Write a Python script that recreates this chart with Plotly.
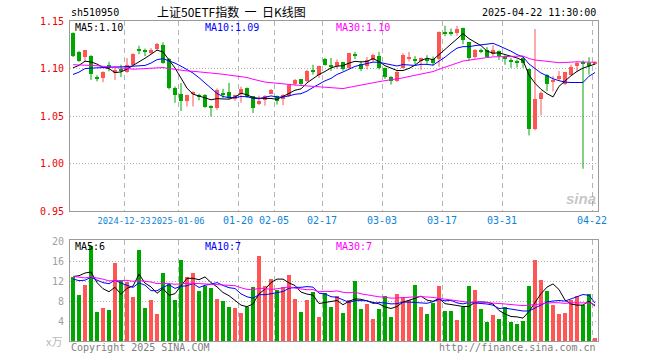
import plotly.graph_objects as go
import pandas as pd

# ---------------- data ----------------
dates = [
    "2024-12-10", "2024-12-11", "2024-12-12", "2024-12-13", "2024-12-16", "2024-12-17", "2024-12-18",
    "2024-12-19", "2024-12-20", "2024-12-23", "2024-12-24", "2024-12-25", "2024-12-26", "2024-12-27",
    "2024-12-30", "2024-12-31", "2025-01-02", "2025-01-03", "2025-01-06", "2025-01-07", "2025-01-08",
    "2025-01-09", "2025-01-10", "2025-01-13", "2025-01-14", "2025-01-15", "2025-01-16", "2025-01-17",
    "2025-01-20", "2025-01-21", "2025-01-22", "2025-01-23", "2025-01-24", "2025-01-27", "2025-02-05",
    "2025-02-06", "2025-02-07", "2025-02-10", "2025-02-11", "2025-02-12", "2025-02-13", "2025-02-14",
    "2025-02-17", "2025-02-18", "2025-02-19", "2025-02-20", "2025-02-21", "2025-02-24", "2025-02-25",
    "2025-02-26", "2025-02-27", "2025-02-28", "2025-03-03", "2025-03-04", "2025-03-05", "2025-03-06",
    "2025-03-07", "2025-03-10", "2025-03-11", "2025-03-12", "2025-03-13", "2025-03-14", "2025-03-17",
    "2025-03-18", "2025-03-19", "2025-03-20", "2025-03-21", "2025-03-24", "2025-03-25", "2025-03-26",
    "2025-03-27", "2025-03-28", "2025-03-31", "2025-04-01", "2025-04-02", "2025-04-03", "2025-04-07",
    "2025-04-08", "2025-04-09", "2025-04-10", "2025-04-11", "2025-04-14", "2025-04-15", "2025-04-16",
    "2025-04-17", "2025-04-18", "2025-04-21", "2025-04-22",
]

opens = [
    1.1375, 1.1175, 1.1120, 1.1130, 1.0900, 1.0895, 1.1040, 1.0960, 1.1000, 1.0966,
    1.1042, 1.1197, 1.1185, 1.1170, 1.1205, 1.1245, 1.1100, 1.0797, 1.0732, 1.0663,
    1.0735, 1.0720, 1.0720, 1.0607, 1.0579, 1.0737, 1.0749, 1.0680, 1.0728, 1.0796,
    1.0706, 1.0630, 1.0672, 1.0735, 1.0706, 1.0679, 1.0715, 1.0832, 1.0889, 1.0865,
    1.0975, 1.0935, 1.1105, 1.1035, 1.1022, 1.1064, 1.1005, 1.1155, 1.1050, 1.1022,
    1.1090, 1.1127, 1.1005, 1.0915, 1.0866, 1.1010, 1.1108, 1.1095, 1.1077, 1.1095,
    1.1105, 1.1100, 1.1380, 1.1378, 1.1378, 1.1426, 1.1275, 1.1121, 1.1188, 1.1198,
    1.1156, 1.1180, 1.1110, 1.1093, 1.1072, 1.1111, 1.0990, 1.0366, 1.0675, 1.0930,
    1.0864, 1.0890, 1.0835, 1.0935, 1.1022, 1.1068, 1.1058, 1.1045,
]
highs = [
    1.1380, 1.1185, 1.1190, 1.1140, 1.0930, 1.0970, 1.1070, 1.1005, 1.1040, 1.1110,
    1.1160, 1.1240, 1.1210, 1.1215, 1.1270, 1.1275, 1.1110, 1.0810, 1.0847, 1.0724,
    1.0760, 1.0735, 1.0730, 1.0612, 1.0790, 1.0787, 1.0849, 1.0725, 1.0810, 1.0800,
    1.0710, 1.0715, 1.0720, 1.0784, 1.0715, 1.0730, 1.0830, 1.0890, 1.0892, 1.0985,
    1.1040, 1.1030, 1.1110, 1.1110, 1.1095, 1.1070, 1.1165, 1.1175, 1.1080, 1.1120,
    1.1155, 1.1175, 1.1010, 1.0920, 1.0975, 1.1160, 1.1175, 1.1130, 1.1115, 1.1140,
    1.1125, 1.1390, 1.1450, 1.1420, 1.1450, 1.1430, 1.1280, 1.1205, 1.1210, 1.1225,
    1.1245, 1.1190, 1.1140, 1.1110, 1.1095, 1.1125, 1.1000, 1.1416, 1.0760, 1.0940,
    1.0920, 1.0975, 1.0965, 1.1040, 1.1072, 1.1085, 1.1118, 1.1078,
]
lows = [
    1.1120, 1.1070, 1.1070, 1.0880, 1.0865, 1.0855, 1.0970, 1.0880, 1.0910, 1.0955,
    1.1030, 1.1150, 1.1130, 1.1150, 1.1190, 1.1050, 1.0780, 1.0640, 1.0552, 1.0600,
    1.0600, 1.0665, 1.0586, 1.0495, 1.0565, 1.0690, 1.0680, 1.0660, 1.0640, 1.0690,
    1.0532, 1.0615, 1.0608, 1.0730, 1.0620, 1.0614, 1.0700, 1.0820, 1.0820, 1.0855,
    1.0935, 1.0900, 1.1030, 1.0975, 1.0995, 1.0977, 1.0998, 1.1100, 1.0972, 1.0990,
    1.1070, 1.0990, 1.0890, 1.0831, 1.0860, 1.1000, 1.1075, 1.1040, 1.0985, 1.1050,
    1.1030, 1.1020, 1.1340, 1.1345, 1.1345, 1.1255, 1.1082, 1.1105, 1.1160, 1.1120,
    1.1130, 1.1090, 1.1040, 1.1007, 1.1010, 1.1007, 1.0296, 1.0350, 1.0506, 1.0763,
    1.0759, 1.0870, 1.0825, 1.0930, 1.0966, 0.9945, 1.0936, 1.1035,
]
closes = [
    1.1130, 1.1080, 1.1190, 1.0940, 1.0892, 1.0960, 1.1010, 1.0980, 1.0980, 1.1037,
    1.1154, 1.1190, 1.1178, 1.1190, 1.1255, 1.1060, 1.0795, 1.0726, 1.0661, 1.0719,
    1.0750, 1.0700, 1.0600, 1.0584, 1.0778, 1.0732, 1.0690, 1.0716, 1.0780, 1.0700,
    1.0584, 1.0654, 1.0714, 1.0770, 1.0654, 1.0724, 1.0825, 1.0884, 1.0840, 1.0972,
    1.0965, 1.1025, 1.1042, 1.1028, 1.1064, 1.0990, 1.1160, 1.1135, 1.0997, 1.1090,
    1.1140, 1.1005, 1.0915, 1.0866, 1.0968, 1.1138, 1.1115, 1.1088, 1.1110, 1.1090,
    1.1060, 1.1380, 1.1375, 1.1372, 1.1415, 1.1296, 1.1112, 1.1198, 1.1182, 1.1125,
    1.1190, 1.1130, 1.1105, 1.1064, 1.1066, 1.1054, 1.0366, 1.0675, 1.0745, 1.0835,
    1.0882, 1.0924, 1.0958, 1.1020, 1.1062, 1.1058, 1.1025, 1.1068,
]
# volume, in 万 (10k lots)
volumes = [
    12.8, 9.3, 11.3, 19.1, 5.9, 6.7, 6.3, 15.7, 12.1, 11.9,
    8.9, 18.3, 6.7, 8.3, 5.5, 13.7, 11.5, 8.3, 16.3, 12.9,
    13.7, 10.1, 11.1, 10.7, 8.5, 8.1, 6.9, 6.7, 5.7, 6.9,
    10.9, 17.1, 11.1, 12.5, 10.3, 10.9, 13.3, 8.5, 5.9, 8.3,
    9.9, 4.9, 9.7, 6.9, 9.1, 5.7, 8.3, 12.1, 6.5, 7.5,
    4.5, 6.5, 9.1, 4.9, 9.5, 8.9, 8.3, 11.3, 6.9, 5.5,
    7.7, 11.1, 6.1, 6.1, 4.3, 6.9, 11.1, 10.3, 6.5, 3.9,
    5.3, 4.5, 6.9, 3.9, 3.5, 4.1, 11.1, 16.3, 12.3, 10.1,
    7.3, 5.5, 5.7, 8.3, 9.1, 7.3, 9.5, 0.7,
]
# the 29 sessions before the visible window (only feed the moving averages)
prior_closes = [
    1.112, 1.118, 1.108, 1.104, 1.115, 1.118, 1.120, 1.124, 1.126, 1.118,
    1.112, 1.109, 1.105, 1.103, 1.108, 1.111, 1.102, 1.094, 1.090, 1.086,
    1.083, 1.082, 1.086, 1.089, 1.0935, 1.095, 1.097, 1.098, 1.1005,
]
prior_volumes = [
    14.2, 14.8, 12.5, 11.3, 15.6, 16.2, 13.9, 12.1, 10.8, 14.6,
    13.2, 11.7, 12.8, 15.1, 12.4, 11.6, 13.5, 12.2, 10.9, 13.6,
    12.6, 10.4, 13.1, 11.8, 11.6, 8.5, 8.6, 18.1, 16.5,
]

tick_dates = ["2024-12-23", "2025-01-06", "2025-01-20", "2025-02-05", "2025-02-17",
              "2025-03-03", "2025-03-17", "2025-03-31", "2025-04-22"]
tick_labels = ["2024-12-23", "2025-01-06", "01-20", "02-05", "02-17",
               "03-03", "03-17", "03-31", "04-22"]
price_ticks = [0.95, 1.00, 1.05, 1.10, 1.15]
volume_ticks = [4, 8, 12, 16, 20]

ma_periods = [5, 10, 30]
price_ma_labels = ["MA5:1.10", "MA10:1.09", "MA30:1.10"]
volume_ma_labels = ["MA5:6", "MA10:7", "MA30:7"]

# ---------------- styles ----------------
RED = "#ff5555"
GREEN = "#00a600"
MA_COLORS = ["#000000", "#0000ff", "#ff00ff"]
MONO = "DejaVu Sans Mono"
BORDER = "#9a9a9a"
GRID = "#b4b4b4"

n = len(dates)
xs = list(range(n))
up = [c >= o for o, c in zip(opens, closes)]
colors = [RED if u else GREEN for u in up]

fig = go.Figure()

# candle bodies
body_base = []
body_h = []
for o, c in zip(opens, closes):
    lo, hi = min(o, c), max(o, c)
    if hi - lo < 0.0011:
        mid = (hi + lo) / 2
        lo, hi = mid - 0.00055, mid + 0.00055
    body_base.append(lo)
    body_h.append(hi - lo)

# wicks
for col, flag in ((RED, True), (GREEN, False)):
    wx, wy = [], []
    for i in xs:
        if up[i] == flag:
            wx += [i, i, None]
            wy += [lows[i], highs[i], None]
    fig.add_trace(go.Scatter(x=wx, y=wy, mode="lines", line=dict(color=col, width=1),
                             hoverinfo="skip", showlegend=False, xaxis="x", yaxis="y"))

fig.add_trace(go.Bar(x=xs, y=body_h, base=body_base, width=0.8,
                     marker=dict(color=colors, line=dict(width=0)),
                     showlegend=False, xaxis="x", yaxis="y"))

# price moving averages
all_close = pd.Series(prior_closes + closes)
all_vol = pd.Series(prior_volumes + volumes)
k = len(prior_closes)
for p, col in zip(ma_periods, MA_COLORS):
    ma = all_close.rolling(p).mean().iloc[k:].tolist()
    fig.add_trace(go.Scatter(x=xs, y=ma, mode="lines", line=dict(color=col, width=1),
                             showlegend=False, xaxis="x", yaxis="y"))

# volume bars
fig.add_trace(go.Bar(x=xs, y=volumes, width=0.8,
                     marker=dict(color=colors, line=dict(width=0)),
                     showlegend=False, xaxis="x2", yaxis="y2"))
for p, col in zip(ma_periods, MA_COLORS):
    ma = all_vol.rolling(p).mean().iloc[k:].tolist()
    fig.add_trace(go.Scatter(x=xs, y=ma, mode="lines", line=dict(color=col, width=1),
                             showlegend=False, xaxis="x2", yaxis="y2"))

tickpos = [dates.index(d) - 0.5 for d in tick_dates]
# the two long (year-bearing) labels sit close together: draw them a bit smaller
tick_text = ['<span style="font-size:8.8px">%s</span>' % t if len(t) > 5 else t
             for t in tick_labels]

common_x = dict(range=[-0.5, n - 0.5], tickvals=tickpos, showgrid=True, gridcolor=GRID,
                griddash="5px,4px", gridwidth=1, showline=True, mirror=True,
                linecolor=BORDER, linewidth=1, zeroline=False, ticks="", fixedrange=True,
                automargin=False, tickangle=0)
common_y = dict(showgrid=True, gridcolor=GRID, griddash="1px,2px", gridwidth=1,
                showline=True, mirror=True, linecolor=BORDER, linewidth=1,
                zeroline=False, ticks="outside", ticklen=3, tickcolor="rgba(0,0,0,0)",
                automargin=False, fixedrange=True)

fig.update_layout(
    width=660, height=360,
    margin=dict(l=70, r=62, t=21, b=19, autoexpand=False),
    paper_bgcolor="white", plot_bgcolor="white",
    barmode="overlay", bargap=0,
    showlegend=False,
    xaxis=dict(**common_x, anchor="y", ticktext=tick_text,
               tickfont=dict(family=MONO, size=10, color="#0b84d8")),
    xaxis2=dict(**common_x, anchor="y2", showticklabels=False),
    yaxis=dict(**common_y, domain=[0.40625, 1], range=[0.95, 1.15], tickvals=price_ticks,
               ticktext=["%.2f" % v for v in price_ticks],
               tickfont=dict(family=MONO, size=10, color="#ee0000")),
    yaxis2=dict(**common_y, domain=[0, 0.315625], range=[0, 20.2], tickvals=volume_ticks,
                ticktext=[str(v) for v in volume_ticks],
                tickfont=dict(family=MONO, size=10, color="#a0a0a0")),
)

def px_x(X):
    return (X - 70) / 528.0

def px_y(Y):
    return (341 - Y) / 320.0

ann = []
def text(s, X, Y, color, size=10, family=MONO, xanchor="left", **kw):
    ann.append(dict(text=s, x=px_x(X), y=px_y(Y), xref="paper", yref="paper",
                    xanchor=xanchor, yanchor="middle", showarrow=False,
                    font=dict(family=family, size=size, color=color), **kw))

text("sh510950", 69, 12.5, "#000000")
text("上证50ETF指数  一  日K线图", 231, 11, "#000000", size=12,
     family="Noto Sans CJK SC", xanchor="center")
text("2025-04-22 11:30:00", 598, 12.5, "#000000", xanchor="right")

label_x = [73, 203, 334]
for s, X, col in zip(price_ma_labels, label_x, MA_COLORS):
    text(s, X, 27, col)
for s, X, col in zip(volume_ma_labels, label_x, MA_COLORS):
    text(s, X, 246.5, col)

text("x万", 64, 341, "#b8b8b8", size=11, family="Noto Sans CJK SC", xanchor="right")
text("Copyright 2025 SINA.COM", 69, 347, "#808080")
text("http://finance.sina.com.cn", 598, 347, "#808080", xanchor="right")
text("<b><i>sina</i></b>", 581, 198, "rgba(150,150,150,0.55)", size=15,
     family="Liberation Sans", xanchor="center")

fig.update_layout(annotations=ann)

fig.write_html("out.html", config={"displayModeBar": False},
               post_script="document.body.style.margin='0';")
